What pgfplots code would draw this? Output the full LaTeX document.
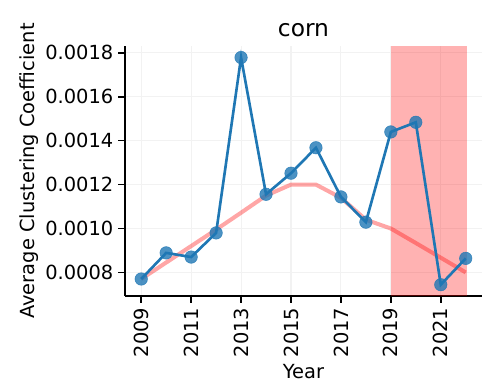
\documentclass[border=0pt]{standalone}
\usepackage{pgfplots}
\pgfplotsset{compat=1.18}
\usepackage{fontspec}
\setmainfont{DejaVu Sans}
\definecolor{mplblue}{HTML}{1F77B4}
\definecolor{mplred}{HTML}{FF0000}

\begin{document}
\begin{tikzpicture}[font=\fontsize{14pt}{16pt}\selectfont]
\begin{axis}[
  name=main,
  scale only axis,
  width=257pt, height=180pt,
  xmin=2008.35, xmax=2022.65,
  ymin=0.000692, ymax=0.001831,
  axis lines*=left,
  axis line style={line width=1.1pt},
  xtick={2009,2011,...,2021},
  ytick={0.0008,0.0010,...,0.00181},
  xticklabel style={rotate=90, anchor=east},
  x tick label style={/pgf/number format/.cd, 1000 sep={}},
  scaled y ticks=false,
  yticklabel style={/pgf/number format/.cd, fixed, fixed zerofill, precision=4},
  /pgf/number format/assume math mode=true,
  tick align=outside,
  major tick length=4.9pt,
  tick style={line width=1.1pt, black},
  grid=major,
  major grid style={line width=0.8pt, gray!10},
  title={\fontsize{16.8pt}{19pt}\selectfont corn},
  title style={yshift=-3pt},
  xlabel={Year},
  ylabel={Average Clustering Coefficient},
  xlabel style={yshift=2pt},
  ylabel style={yshift=-2pt},
  clip=false,
]
% yearly values, drawn as dots first
\addplot[only marks, mark=*, mark size=4.5pt, mark options={fill=mplblue, draw=mplblue, fill opacity=0.8, draw opacity=0.8}] coordinates {
  (2009,0.000770) (2010,0.000889) (2011,0.000870) (2012,0.000980)
  (2013,0.001779) (2014,0.001156) (2015,0.001252) (2016,0.001368)
  (2017,0.001144) (2018,0.001029) (2019,0.001440) (2020,0.001484)
  (2021,0.000744) (2022,0.000864)
};
% highlighted period
\fill[mplred, opacity=0.3] (axis cs:2019,0.000692) rectangle (axis cs:2022.05,0.001831);
% smoothed trend
\addplot[mplred, opacity=0.35, line width=2.9pt, no marks] coordinates {
  (2009,0.000770) (2010,0.000845) (2011,0.000920) (2012,0.000995)
  (2013,0.001072) (2014,0.001150) (2015,0.001200) (2016,0.001200)
  (2017,0.001140) (2018,0.001040) (2019,0.001000) (2020,0.000934)
  (2021,0.000867) (2022,0.000800)
};
% yearly values, connecting line
\addplot[mplblue, line width=1.9pt, no marks] coordinates {
  (2009,0.000770) (2010,0.000889) (2011,0.000870) (2012,0.000980)
  (2013,0.001779) (2014,0.001156) (2015,0.001252) (2016,0.001368)
  (2017,0.001144) (2018,0.001029) (2019,0.001440) (2020,0.001484)
  (2021,0.000744) (2022,0.000864)
};
\end{axis}
\path[use as bounding box] (main.south west) ++(-90pt,-69pt) rectangle ++(352.8pt,282.2pt);
\end{tikzpicture}
\end{document}
